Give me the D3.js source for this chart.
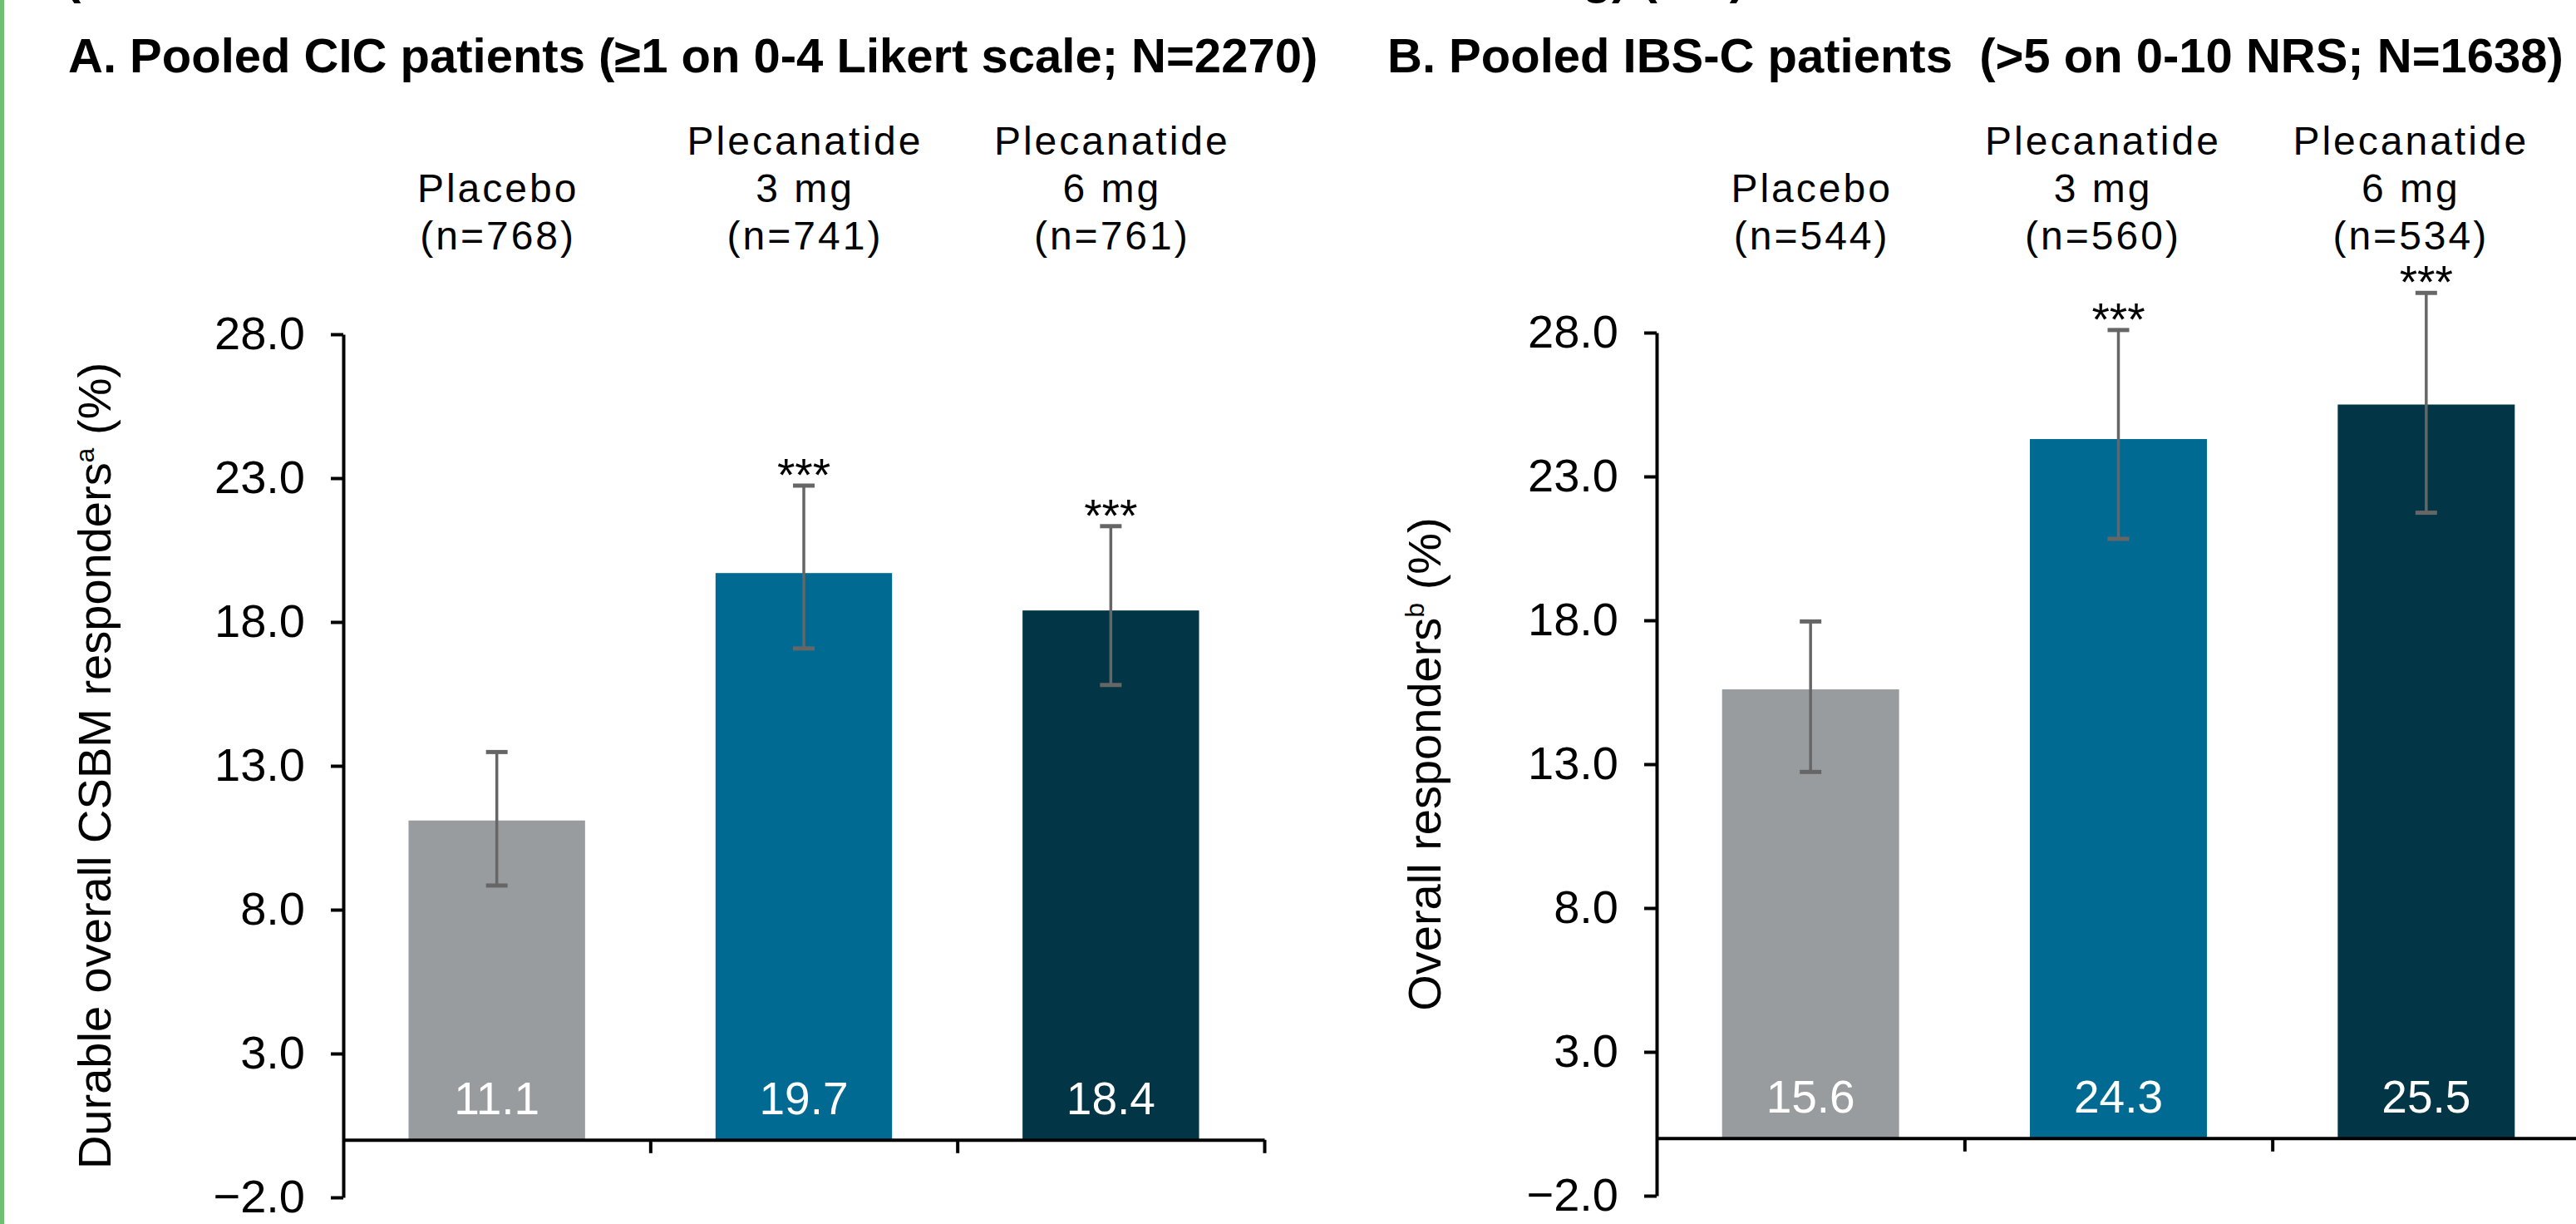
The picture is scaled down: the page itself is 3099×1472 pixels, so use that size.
<!DOCTYPE html>
<html>
<head>
<meta charset="utf-8">
<script src="https://cdn.jsdelivr.net/npm/d3@7"></script>
<style>
  html, body { margin: 0; padding: 0; background: #ffffff; }
  svg { display: block; }
  text { font-family: "Liberation Sans", Arial, Helvetica, sans-serif; }
</style>
</head>
<body>
<svg id="chart" width="3099" height="1472"></svg>
<script>
// ---------------- data ----------------
const categories = ["Placebo", "Plecanatide 3 mg", "Plecanatide 6 mg"];
const headerLinesA = [["Placebo", "(n=768)"], ["Plecanatide", "3 mg", "(n=741)"], ["Plecanatide", "6 mg", "(n=761)"]];
const headerLinesB = [["Placebo", "(n=544)"], ["Plecanatide", "3 mg", "(n=560)"], ["Plecanatide", "6 mg", "(n=534)"]];
const valuesA = [11.1, 19.7, 18.4];
const lowerA = [8.84, 17.08, 15.81];
const upperA = [13.48, 22.74, 21.33];
const valuesB = [15.6, 24.3, 25.5];
const lowerB = [12.73, 20.83, 21.74];
const upperB = [17.96, 28.09, 29.38];
const signifA = ["", "***", "***"];
const signifB = ["", "***", "***"];
const yTickValues = [-2, 3, 8, 13, 18, 23, 28];
const yDomain = [-2, 28];
const titleA = "A. Pooled CIC patients (\u22651 on 0-4 Likert scale; N=2270)";
const titleB = "B. Pooled IBS-C patients  (>5 on 0-10 NRS; N=1638)";
const yTitleA = ["Durable overall CSBM responders", "a", " (%)"];
const yTitleB = ["Overall responders", "b", " (%)"];
const barColors = ["#999c9f", "#006a93", "#023546"];

// ---------------- layout ----------------
const W = 3099, H = 1472;
const svg = d3.select("#chart");
svg.append("rect").attr("width", W).attr("height", H).attr("fill", "#ffffff");
svg.append("rect").attr("x", 0).attr("y", 0).attr("width", 5).attr("height", H).attr("fill", "#6cc070");

// cut-off line of text at the very top (only descenders visible, as in the reference)
svg.append("text").attr("x", 78).attr("y", -8).attr("font-size", 58).attr("font-weight", "bold").text("(");
svg.append("text").attr("x", 2100).attr("y", -8).attr("font-size", 58).attr("font-weight", "bold")
  .attr("text-anchor", "end").text("mg) (ITT)");

const panels = [
  { title: titleA, titleX: 82, yTitle: yTitleA, yTitleX: 133, x0: 413, x1: 1521, yTop: 402, yBot: 1440,
    headers: headerLinesA, headerShift: [0, 0, 0], values: valuesA, lower: lowerA, upper: upperA, signif: signifA },
  { title: titleB, titleX: 1669, yTitle: yTitleB, yTitleX: 1733, x0: 1993, x1: 3104, yTop: 400, yBot: 1438,
    headers: headerLinesB, headerShift: [0, -20, -20], values: valuesB, lower: lowerB, upper: upperB, signif: signifB }
];

const headerBaselines = [186, 243, 300];

panels.forEach(p => {
  const g = svg.append("g");
  const y = d3.scaleLinear().domain(yDomain).range([p.yBot, p.yTop]);
  const x = d3.scaleBand().domain(categories).range([p.x0, p.x1]).padding(0);
  const bw = x.bandwidth() * 0.575;
  const cx = c => x(c) + x.bandwidth() / 2;
  const rows = categories.map((c, i) => ({ c, i, v: p.values[i], lo: p.lower[i], hi: p.upper[i], s: p.signif[i] }));

  // title
  g.append("text").attr("x", p.titleX).attr("y", 87).attr("font-size", 58).attr("font-weight", "bold")
    .style("white-space", "pre").attr("xml:space", "preserve").text(p.title);

  // category headers
  rows.forEach(r => {
    const lines = p.headers[r.i];
    const n = lines.length;
    lines.forEach((ln, k) => {
      g.append("text")
        .attr("x", cx(r.c) + p.headerShift[r.i] + 1.5)
        .attr("y", headerBaselines[3 - n + k])
        .attr("text-anchor", "middle")
        .attr("font-size", 48)
        .style("letter-spacing", "3px")
        .attr("fill", "#000")
        .text(ln);
    });
  });

  // bars
  g.selectAll("rect.bar").data(rows).enter().append("rect")
    .attr("class", "bar")
    .attr("x", d => cx(d.c) - bw / 2)
    .attr("width", bw)
    .attr("y", d => y(d.v))
    .attr("height", d => y(0) - y(d.v))
    .attr("fill", d => barColors[d.i]);

  // value labels
  g.selectAll("text.val").data(rows).enter().append("text")
    .attr("class", "val")
    .attr("x", d => cx(d.c))
    .attr("y", y(0) - 31)
    .attr("text-anchor", "middle")
    .attr("font-size", 55)
    .attr("fill", "#ffffff")
    .text(d => d.v.toFixed(1));

  // x axis (ticks at category boundaries)
  const xb = d3.scaleLinear().domain([0, categories.length]).range([p.x0, p.x1]);
  const xAxis = g.append("g").attr("transform", `translate(0,${y(0)})`)
    .call(d3.axisBottom(xb).tickValues([1, 2, 3]).tickSize(16).tickSizeOuter(0).tickFormat(""));
  xAxis.selectAll("path, line").attr("stroke", "#000").attr("stroke-width", 4);

  // error bars
  const eg = g.append("g").attr("stroke", "#666666");
  rows.forEach(r => {
    eg.append("line").attr("x1", cx(r.c)).attr("x2", cx(r.c)).attr("y1", y(r.hi)).attr("y2", y(r.lo)).attr("stroke-width", 3.5);
    [r.hi, r.lo].forEach(v => {
      eg.append("line").attr("x1", cx(r.c) - 13).attr("x2", cx(r.c) + 13).attr("y1", y(v)).attr("y2", y(v)).attr("stroke-width", 5);
    });
  });

  // significance stars
  g.selectAll("text.sig").data(rows.filter(d => d.s)).enter().append("text")
    .attr("class", "sig")
    .attr("x", d => cx(d.c))
    .attr("y", d => y(d.hi) + 6)
    .attr("text-anchor", "middle")
    .attr("font-size", 55)
    .attr("fill", "#000")
    .text(d => d.s);

  // y axis
  const yAxis = g.append("g").attr("transform", `translate(${p.x0},0)`)
    .call(d3.axisLeft(y).tickValues(yTickValues).tickSize(15).tickSizeOuter(0).tickPadding(31)
      .tickFormat(d3.format(".1f")));
  yAxis.selectAll("path, line").attr("stroke", "#000").attr("stroke-width", 4);
  yAxis.selectAll("text").attr("font-size", 56).attr("fill", "#000")
    .attr("font-family", "\"Liberation Sans\", Arial, sans-serif");

  // y title
  const yt = g.append("text")
    .attr("transform", `translate(${p.yTitleX},${(p.yTop + p.yBot) / 2}) rotate(-90)`)
    .attr("text-anchor", "middle")
    .attr("font-size", 56)
    .attr("fill", "#000");
  yt.append("tspan").text(p.yTitle[0]);
  yt.append("tspan").attr("font-size", 32).attr("dy", -20).text(p.yTitle[1]);
  yt.append("tspan").attr("dy", 20).style("white-space", "pre").text(p.yTitle[2]);
});
</script>
</body>
</html>
